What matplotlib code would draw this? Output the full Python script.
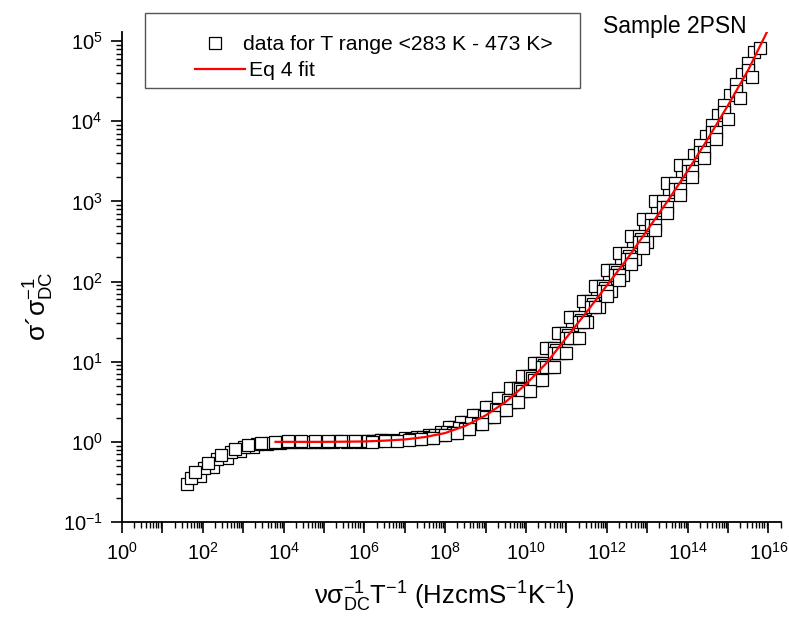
import numpy as np
import matplotlib
matplotlib.use('Agg')
import matplotlib.pyplot as plt
from matplotlib.ticker import LogLocator, FuncFormatter, NullFormatter
from matplotlib.lines import Line2D
from matplotlib.patches import Rectangle

plt.rcParams['font.family'] = ['Liberation Sans', 'DejaVu Sans']
plt.rcParams['mathtext.fontset'] = 'custom'
plt.rcParams['mathtext.rm'] = 'Liberation Sans'
plt.rcParams['mathtext.it'] = 'Liberation Sans:italic'
plt.rcParams['mathtext.bf'] = 'Liberation Sans:bold'
plt.rcParams['mathtext.default'] = 'regular'

# ---- data (log10 values) ----
# high-temperature curves (with low-frequency tail)
c1_x = [1.60, 1.93, 2.26, 2.59, 2.92, 3.25, 3.58, 3.91, 4.24, 4.57, 4.90, 5.23, 5.56, 5.89, 6.22]
c1_y = [-0.53, -0.42, -0.31, -0.20, -0.11, -0.06, -0.03, -0.01, 0.0, 0.0, 0.0, 0.0, 0.002, 0.004, 0.008]
c2_x = [1.70, 2.03, 2.36, 2.69, 3.02, 3.35, 3.68, 4.01, 4.34, 4.67, 5.00, 5.33, 5.66, 5.99, 6.32]
c2_y = [-0.45, -0.33, -0.22, -0.13, -0.07, -0.03, -0.01, 0.0, 0.003, 0.004, 0.004, 0.005, 0.007, 0.01, 0.013]
c3_x = [1.80, 2.13, 2.46, 2.79, 3.12, 3.45, 3.78, 4.11, 4.44, 4.77, 5.10, 5.43, 5.76, 6.09, 6.42]
c3_y = [-0.38, -0.26, -0.16, -0.09, -0.04, -0.015, 0.0, 0.005, 0.006, 0.006, 0.006, 0.008, 0.01, 0.013, 0.017]
# lower-temperature curves
c4_x = [6.2, 6.5, 6.8, 7.1, 7.4, 7.7, 8.0, 8.3, 8.6, 8.9, 9.2, 9.5, 9.8, 10.1, 10.4, 10.7, 11.0, 11.3]
c4_y = [0.004, 0.009, 0.015, 0.024, 0.036, 0.054, 0.080, 0.110, 0.164, 0.226, 0.304, 0.398, 0.500, 0.632,
        0.772, 0.928, 1.108, 1.300]
c5_x = [6.4, 6.7, 7.0, 7.3, 7.6, 7.9, 8.2, 8.5, 8.8, 9.1, 9.4, 9.7, 10.0, 10.3, 10.6, 10.9, 11.2, 11.5, 11.8, 12.1]
c5_y = [0.018, 0.027, 0.042, 0.060, 0.090, 0.128, 0.182, 0.252, 0.330, 0.432, 0.544, 0.676, 0.824, 0.980,
        1.172, 1.364, 1.556, 1.752, 1.950, 2.148]
c6_x = [7.3, 7.6, 7.9, 8.2, 8.5, 8.8, 9.1, 9.4, 9.7, 10.0, 10.3, 10.6, 10.9, 11.2, 11.5, 11.8, 12.1, 12.4, 12.7, 13.0]
c6_y = [0.036, 0.054, 0.080, 0.110, 0.164, 0.226, 0.304, 0.398, 0.500, 0.632, 0.772, 0.928, 1.108, 1.300,
        1.492, 1.686, 1.884, 2.082, 2.280, 2.496]
c7_x = [8.1, 8.4, 8.7, 9.0, 9.3, 9.6, 9.9, 10.2, 10.5, 10.8, 11.1, 11.4, 11.7, 12.0, 12.3, 12.6, 12.9, 13.2, 13.5, 13.8]
c7_y = [0.182, 0.252, 0.330, 0.432, 0.544, 0.676, 0.824, 0.980, 1.172, 1.364, 1.556, 1.752, 1.950, 2.148,
        2.352, 2.568, 2.784, 3.000, 3.228, 3.460]
c8_x = [9.0, 9.3, 9.6, 9.9, 10.2, 10.5, 10.8, 11.1, 11.4, 11.7, 12.0, 12.3, 12.6, 12.9, 13.2, 13.5, 13.8, 14.1, 14.4, 14.7]
c8_y = [0.304, 0.398, 0.500, 0.632, 0.772, 0.928, 1.108, 1.300, 1.492, 1.686, 1.884, 2.082, 2.280, 2.496,
        2.712, 2.928, 3.152, 3.380, 3.620, 3.864]
c9_x = [9.8, 10.1, 10.4, 10.7, 11.0, 11.3, 11.6, 11.9, 12.2, 12.5, 12.8, 13.1, 13.4, 13.7, 14.0, 14.3, 14.6, 14.9, 15.2, 15.5]
c9_y = [0.676, 0.824, 0.980, 1.172, 1.364, 1.556, 1.752, 1.950, 2.148, 2.352, 2.568, 2.784, 3.000, 3.228,
        3.460, 3.700, 3.948, 4.200, 4.464, 4.732]
c10_x = [10.4, 10.7, 11.0, 11.3, 11.6, 11.9, 12.2, 12.5, 12.8, 13.1, 13.4, 13.7, 14.0, 14.3, 14.6, 14.9, 15.2, 15.5, 15.8]
c10_y = [0.928, 1.108, 1.300, 1.492, 1.686, 1.884, 2.082, 2.280, 2.496, 2.712, 2.928, 3.152, 3.380, 3.620,
         3.864, 4.116, 4.376, 4.640, 4.916]
c11_x = [7.15, 7.45, 7.75, 8.05, 8.35, 8.65, 8.95, 9.25, 9.55, 9.85, 10.15, 10.45, 10.75, 11.05, 11.35, 11.65,
         11.95, 12.25, 12.55, 12.85]
c11_y = [0.039, 0.057, 0.085, 0.119, 0.173, 0.239, 0.317, 0.415, 0.522, 0.654, 0.798, 0.954, 1.140, 1.332,
         1.524, 1.719, 1.917, 2.115, 2.316, 2.532]
c12_x = [11.15, 11.45, 11.75, 12.05, 12.35, 12.65, 12.95, 13.25, 13.55, 13.85, 14.15, 14.45, 14.75, 15.05,
         15.35, 15.65]
c12_y = [1.460, 1.653, 1.851, 2.049, 2.247, 2.460, 2.676, 2.892, 3.114, 3.342, 3.580, 3.822, 4.074, 4.332,
         4.596, 4.870]
c13_x = [12.0, 12.3, 12.6, 12.9, 13.2, 13.5, 13.8, 14.1, 14.4, 14.7, 15.0, 15.3, 15.6]
c13_y = [1.818, 2.016, 2.214, 2.424, 2.640, 2.856, 3.076, 3.304, 3.540, 3.780, 4.032, 4.288, 4.552]

# Eq 4 fit (log10 values)
fit_x = [3.8, 4.5, 5.0, 5.5, 6.0, 6.5, 7.0, 7.5, 8.0, 8.5, 9.0, 9.5, 10.0, 10.5, 11.0, 11.5, 12.0,
         12.5, 13.0, 13.5, 14.0, 14.5, 15.0, 15.5, 15.96]
fit_y = [0.0, 0.0, 0.0, 0.002, 0.005, 0.015, 0.03, 0.06, 0.11, 0.20, 0.33, 0.50, 0.72, 0.98, 1.30, 1.62,
         1.95, 2.28, 2.64, 3.00, 3.38, 3.78, 4.20, 4.64, 5.11]

curves = [(c1_x, c1_y), (c2_x, c2_y), (c3_x, c3_y), (c5_x, c5_y), (c12_x, c12_y), (c7_x, c7_y),
          (c9_x, c9_y), (c11_x, c11_y), (c6_x, c6_y), (c10_x, c10_y), (c8_x, c8_y), (c13_x, c13_y),
          (c4_x, c4_y)]

legend_data = 'data for T range <283 K - 473 K>'
legend_fit = 'Eq 4 fit'
sample_label = 'Sample 2PSN'

W, H = 789, 623
fig = plt.figure(figsize=(W / 100, H / 100), dpi=100)
L, R, B, T = 122, 781, 522, 32
ax = fig.add_axes([L / W, 1 - B / H, (R - L) / W, (B - T) / H])

MS = 9.0
for xs, ys in curves:
    ax.plot(np.power(10.0, xs), np.power(10.0, ys), ls='none', marker='s', ms=MS,
            mfc='white', mec='black', mew=0.9, zorder=2)
ax.plot(np.power(10.0, fit_x), np.power(10.0, fit_y), color='#ff0000', lw=1.6, zorder=3)

ax.set_xscale('log')
ax.set_yscale('log')
ax.set_xlim(1, 2.05e16)
ax.set_ylim(0.1, 1.3e5)

for s in ['top', 'right']:
    ax.spines[s].set_visible(False)
for s in ['left', 'bottom']:
    ax.spines[s].set_linewidth(1.3)

ax.xaxis.set_major_locator(LogLocator(base=10, numticks=30))
ax.xaxis.set_minor_locator(LogLocator(base=10, subs=np.arange(2, 10), numticks=30))
ax.yaxis.set_major_locator(LogLocator(base=10, numticks=30))
ax.yaxis.set_minor_locator(LogLocator(base=10, subs=np.arange(2, 10), numticks=30))


def xfmt(v, pos):
    e = int(round(np.log10(v)))
    return '10$^{%d}$' % e if e % 2 == 0 else ''


def yfmt(v, pos):
    e = int(round(np.log10(v)))
    return '10$^{%d}$' % e


ax.xaxis.set_major_formatter(FuncFormatter(xfmt))
ax.yaxis.set_major_formatter(FuncFormatter(yfmt))
ax.xaxis.set_minor_formatter(NullFormatter())
ax.yaxis.set_minor_formatter(NullFormatter())
ax.tick_params(which='major', direction='out', length=8, width=1.2, labelsize=14.5, pad=6)
ax.tick_params(which='minor', direction='out', length=4, width=1.0)

ax.set_xlabel(r'$\nu\sigma_{DC}^{-1}T^{-1}$ (HzcmS$^{-1}$K$^{-1}$)', fontsize=18.5)
ax.xaxis.set_label_coords(0.49, -0.118)
ax.set_ylabel(r'σ´$\sigma_{DC}^{-1}$', fontsize=19)
ax.yaxis.set_label_coords(-0.10, 0.44)

fig.text(603 / W, 1 - 26 / H, sample_label, fontsize=16.5, ha='left', va='center')

# legend box drawn in figure pixels
def fx(px):
    return px / W


def fy(py):
    return 1 - py / H


fig.patches.append(Rectangle((fx(145), fy(88)), fx(580) - fx(145), fy(13) - fy(88),
                             transform=fig.transFigure, fill=False, edgecolor='#555555', lw=1.0))
fig.lines.append(Line2D([fx(215)], [fy(43)], transform=fig.transFigure, ls='none', marker='s', ms=MS,
                        mfc='white', mec='black', mew=0.9))
fig.lines.append(Line2D([fx(195), fx(245)], [fy(69), fy(69)], transform=fig.transFigure,
                        color='#ff0000', lw=1.6))
fig.text(fx(243), fy(44), legend_data, fontsize=15.2, ha='left', va='center')
fig.text(fx(249), fy(70), legend_fit, fontsize=15.2, ha='left', va='center')

fig.savefig('out.png', dpi=100)
